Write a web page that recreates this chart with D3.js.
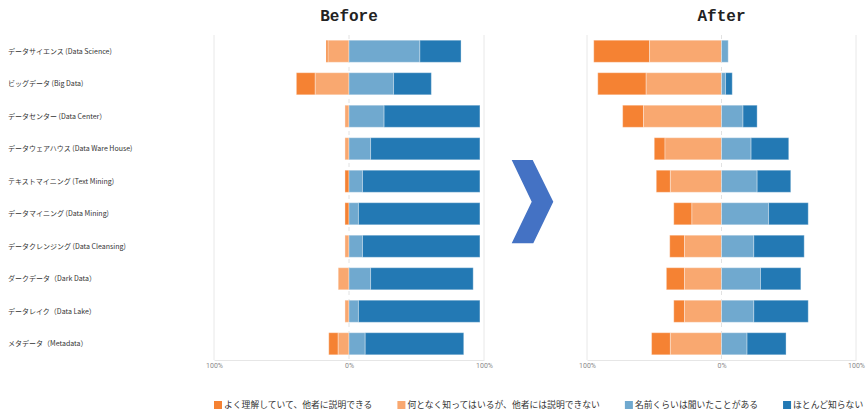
<!DOCTYPE html>
<html>
<head>
<meta charset="utf-8">
<script src="https://cdn.jsdelivr.net/npm/d3@7"></script>
<style>
  body { margin: 0; background: #fff; }
  svg { display: block; }
</style>
</head>
<body>
<svg id="chart" width="868" height="414"></svg>
<script>
// categories (top to bottom)
const categories = [
  'データサイエンス (Data Science)',
  'ビッグデータ (Big Data)',
  'データセンター (Data Center）',
  'データウェアハウス (Data Ware House)',
  'テキストマイニング (Text Mining)',
  'データマイニング (Data Mining)',
  'データクレンジング (Data Cleansing)',
  'ダークデータ（Dark Data）',
  'データレイク（Data Lake）',
  'メタデータ（Metadata）'
];

const levels = [
  'よく理解していて、他者に説明できる',
  '何となく知ってはいるが、他者には説明できない',
  '名前くらいは聞いたことがある',
  'ほとんど知らない'
];
const levelColors = ['#f58233', '#f9a870', '#70a9cf', '#2379b4'];

// Before (%)
const beforeKnowWell = [1.5, 14, 0, 0, 3, 3, 0, 0, 0, 7];
const beforeKnowVague = [15.5, 25, 3, 3, 0, 0, 3, 8, 3, 8];
const beforeHeardName = [52.5, 33, 26, 16, 10, 7, 10, 16, 7, 12];
const beforeUnknown = [30.5, 28, 71, 81, 87, 90, 87, 76, 90, 73];

// After (%)
const afterKnowWell = [41.5, 36, 15.5, 8, 10.5, 13.5, 11, 13.5, 8, 14];
const afterKnowVague = [53.5, 56, 58, 42, 38, 22, 27.5, 27.5, 27.5, 38];
const afterHeardName = [5, 3, 16, 22, 26.5, 35, 24, 29, 24, 19];
const afterUnknown = [0, 5, 10.5, 28, 25, 29.5, 37.5, 30, 40.5, 29];

const axisTicks = [-100, 0, 100];

const svg = d3.select('#chart');
const plotTop = 35;
const plotBottom = 360;

const y = d3.scaleBand()
  .domain(categories)
  .range([plotTop, plotBottom])
  .paddingInner(0.32)
  .paddingOuter(0.16);

function drawPanel(title, range, kw, kv, hn, un) {
  const x = d3.scaleLinear().domain([-100, 100]).range(range);
  const g = svg.append('g');

  // grid
  g.selectAll('.grid')
    .data(axisTicks)
    .join('line')
    .attr('x1', d => x(d)).attr('x2', d => x(d))
    .attr('y1', plotTop).attr('y2', plotBottom)
    .attr('stroke', d => d === 0 ? '#e2e2e2' : '#e8e8e8')
    .attr('stroke-width', 1)
    .attr('stroke-dasharray', d => d === 0 ? '4,4' : null);

  // bottom axis
  const axis = g.append('g')
    .attr('transform', `translate(0, ${plotBottom})`)
    .call(d3.axisBottom(x).tickValues(axisTicks).tickSize(0).tickPadding(3)
      .tickFormat(d => Math.abs(d) + '%'));
  axis.select('.domain').attr('stroke', '#e6e6e6');
  axis.selectAll('text')
    .attr('fill', '#8a8a8a')
    .style('font-family', 'Roboto, sans-serif')
    .style('font-size', '7px');

  // segments
  const rows = categories.map((c, i) => [
    { cat: c, k: 0, x0: -(kw[i] + kv[i]), x1: -kv[i] },
    { cat: c, k: 1, x0: -kv[i], x1: 0 },
    { cat: c, k: 2, x0: 0, x1: hn[i] },
    { cat: c, k: 3, x0: hn[i], x1: hn[i] + un[i] }
  ]).flat().filter(d => d.x1 - d.x0 > 0);

  g.selectAll('.bar')
    .data(rows)
    .join('rect')
    .attr('x', d => x(d.x0))
    .attr('width', d => x(d.x1) - x(d.x0))
    .attr('y', d => y(d.cat))
    .attr('height', y.bandwidth())
    .attr('fill', d => levelColors[d.k])
    .attr('stroke', '#fff')
    .attr('stroke-opacity', 0.35)
    .attr('stroke-width', 1);

  svg.append('text')
    .attr('x', x(0))
    .attr('y', 21)
    .attr('text-anchor', 'middle')
    .style('font-family', '"Liberation Mono", monospace')
    .style('font-weight', 'bold')
    .style('font-size', '16px')
    .attr('fill', '#222')
    .text(title);
}

drawPanel('Before', [214, 484], beforeKnowWell, beforeKnowVague, beforeHeardName, beforeUnknown);
drawPanel('After', [587, 856], afterKnowWell, afterKnowVague, afterHeardName, afterUnknown);

// category labels
svg.append('g')
  .selectAll('text')
  .data(categories)
  .join('text')
  .attr('x', 8)
  .attr('y', d => y(d) + y.bandwidth() / 2)
  .attr('dy', '0.35em')
  .style('font-family', '"Noto Sans CJK JP", sans-serif')
  .style('font-size', '7px')
  .attr('fill', '#333')
  .text(d => d);

// chevron between panels
svg.append('path')
  .attr('d', 'M511.7,160 L532.7,160 L553.3,201.7 L533.3,243.3 L511.7,243.3 L531.7,201.7 Z')
  .attr('fill', '#4472c4');

// legend
const legend = svg.append('g');
let lx = 214;
levels.forEach((name, i) => {
  legend.append('rect')
    .attr('x', lx).attr('y', 401)
    .attr('width', 8).attr('height', 8)
    .attr('fill', levelColors[i]);
  const t = legend.append('text')
    .attr('x', lx + 10).attr('y', 405)
    .attr('dy', '0.35em')
    .style('font-family', '"Noto Sans CJK JP", sans-serif')
    .style('font-size', '8.8px')
    .attr('fill', '#333')
    .text(name);
  lx += 10 + t.node().getComputedTextLength() + 25;
});
</script>
</body>
</html>
